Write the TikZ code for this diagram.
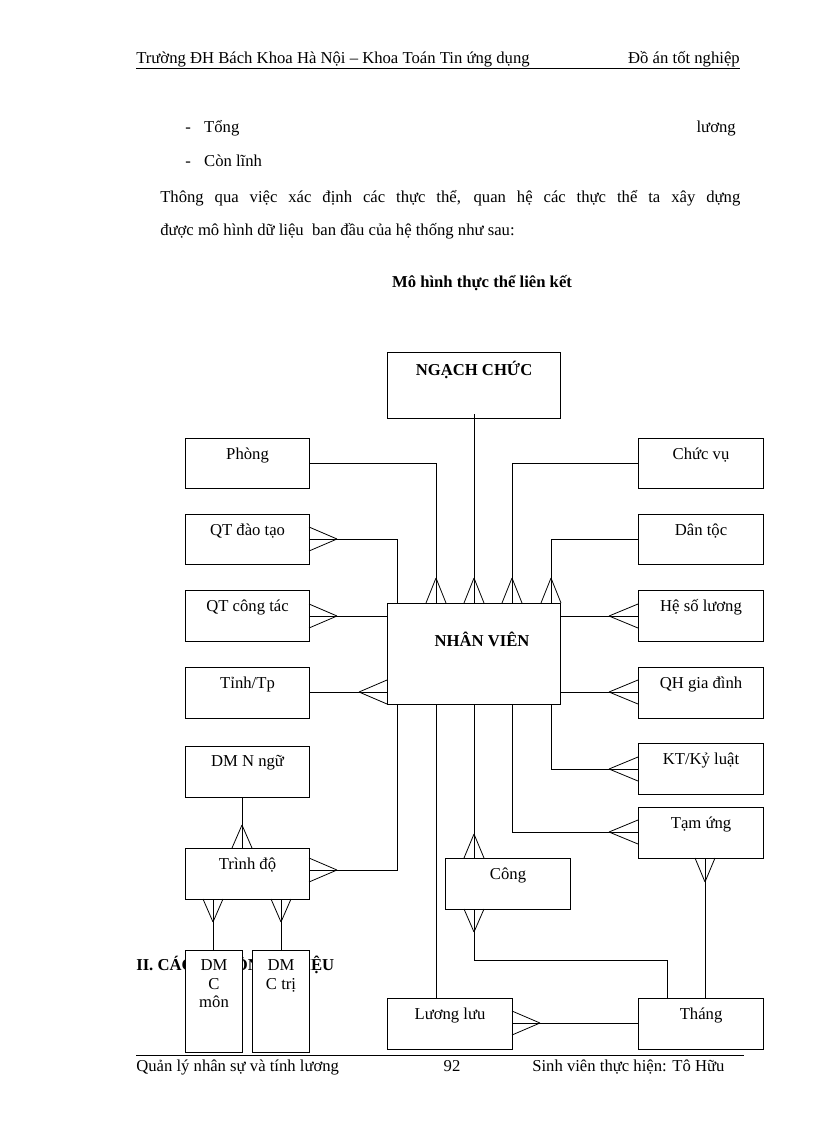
\documentclass[tikz,border=0pt]{standalone}
\usepackage{fontspec}
\setmainfont{Liberation Serif}
\begin{document}
\begin{tikzpicture}[x=0.75pt,y=-0.75pt,
  box/.style={draw,fill=white,line width=0.8pt,inner sep=0pt},
  lbl/.style={anchor=north,font=\fontsize{12.5}{14}\selectfont,align=center,inner sep=0pt},
  ln/.style={line width=0.6pt},
  txt/.style={anchor=base west,inner sep=0pt,font=\fontsize{12.5}{15}\selectfont}]
\useasboundingbox (0,0) rectangle (816,1123);
\fill[white] (0,0) rectangle (816,1123);
% header
\node[txt] at (136,64) {Trường ĐH Bách Khoa Hà Nội – Khoa Toán Tin ứng dụng};
\node[txt,anchor=base east] at (740,64) {Đồ án tốt nghiệp};
\draw[line width=0.5pt] (136,68) -- (740,68);
% text
\node[txt] at (185,133) {-\hspace{10pt}Tổng};
\node[txt,anchor=base east] at (736,133) {lương};
\node[txt] at (185,167) {-\hspace{10pt}Còn lĩnh};
\node[txt] at (160,203) {\makebox[435pt][s]{Thông qua việc xác định các thực thể, quan hệ các thực thể ta xây dựng}};
\node[txt] at (160,235) {được mô hình dữ liệu \ ban đầu của hệ thống như sau:};
\node[txt,anchor=base,font=\bfseries\fontsize{12.5}{15}\selectfont] at (482,287) {Mô hình thực thể liên kết};
\node[txt,font=\bfseries\fontsize{12.5}{15}\selectfont] at (136,970) {II. CÁC NGUỒN DỮ LIỆU};
% boxes
\newcommand\ebox[6]{\node[box,anchor=north west,minimum width={(#4-#2)*0.75pt},minimum height={(#5-#3)*0.75pt}] (#1) at (#2,#3) {};
  \node[lbl] at ([yshift=-7pt]#1.north) {#6};}
\ebox{ngach}{387}{352}{560}{418}{\textbf{NGẠCH CHỨC}}
\ebox{phong}{185}{438}{309}{488}{Phòng}
\ebox{chucvu}{638}{438}{763}{488}{Chức vụ}
\ebox{qtdt}{185}{514}{309}{564}{QT đào tạo}
\ebox{dantoc}{638}{514}{763}{564}{Dân tộc}
\ebox{qtct}{185}{590}{309}{641}{QT công tác}
\ebox{heso}{638}{590}{763}{641}{Hệ số lương}
\ebox{nv}{387}{603}{560}{704}{}
\node[lbl,font=\bfseries\fontsize{12.5}{14}\selectfont] at (482,632) {NHÂN VIÊN};
\ebox{tinh}{185}{667}{309}{718}{Tỉnh/Tp}
\ebox{qh}{638}{667}{763}{718}{QH gia đình}
\ebox{nngu}{185}{746}{309}{797}{DM N ngữ}
\ebox{kt}{638}{743}{763}{794}{KT/Kỷ luật}
\ebox{tamung}{638}{807}{763}{858}{Tạm ứng}
\ebox{trinhdo}{185}{848}{309}{899}{Trình độ}
\ebox{cong}{445}{858}{570}{909}{Công}
\ebox{cmon}{185}{950}{242}{1052}{DM\\C\\môn}
\ebox{ctri}{252}{950}{309}{1052}{DM\\C trị}
\ebox{luong}{387}{998}{512}{1049}{Lương lưu}
\ebox{thang}{638}{998}{763}{1049}{Tháng}
% connectors
\newcommand\crowv[3]{\draw[ln] (#1,#2) -- (#1-10,#3) (#1,#2) -- (#1+10,#3);}
\newcommand\crowh[3]{\draw[ln] (#1,#2) -- (#3,#2-12) (#1,#2) -- (#3,#2+12);}
\draw[ln] (309,463) -- (436,463) -- (436,603);
\draw[ln] (474,414) -- (474,603);
\draw[ln] (638,463) -- (512,463) -- (512,603);
\draw[ln] (638,539) -- (551,539) -- (551,603);
\crowv{436}{578}{603}\crowv{474}{578}{603}\crowv{512}{578}{603}\crowv{551}{578}{603}
\draw[ln] (309,539) -- (397,539) -- (397,603);
\crowh{337}{539}{309}
\draw[ln] (309,616) -- (387,616); \crowh{337}{616}{309}
\draw[ln] (309,692) -- (387,692); \crowh{359}{692}{387}
\draw[ln] (638,616) -- (560,616); \crowh{609}{616}{638}
\draw[ln] (638,692) -- (560,692); \crowh{609}{692}{638}
\draw[ln] (397,704) -- (397,870) -- (309,870); \crowh{337}{870}{309}
\draw[ln] (436,704) -- (436,998);
\draw[ln] (474,704) -- (474,858); \crowv{474}{834}{858}
\draw[ln] (512,704) -- (512,832) -- (638,832); \crowh{609}{832}{638}
\draw[ln] (551,704) -- (551,769) -- (638,769); \crowh{609}{769}{638}
\draw[ln] (242,797) -- (242,848); \crowv{242}{825}{848}
\draw[ln] (213,899) -- (213,950); \crowv{213}{922}{899}
\draw[ln] (281,899) -- (281,950); \crowv{281}{922}{899}
\draw[ln] (474,909) -- (474,960) -- (667,960) -- (667,998); \crowv{474}{932}{909}
\draw[ln] (705,858) -- (705,998); \crowv{705}{882}{858}
\draw[ln] (512,1023) -- (638,1023); \crowh{540}{1023}{512}
% footer
\draw[line width=0.5pt] (136,1055) -- (744,1055);
\node[txt] at (136,1071) {Quản lý nhân sự và tính lương};
\node[txt,anchor=base] at (452,1071) {92};
\node[txt] at (532,1071) {Sinh viên thực hiện: Tô Hữu};
\end{tikzpicture}
\end{document}
